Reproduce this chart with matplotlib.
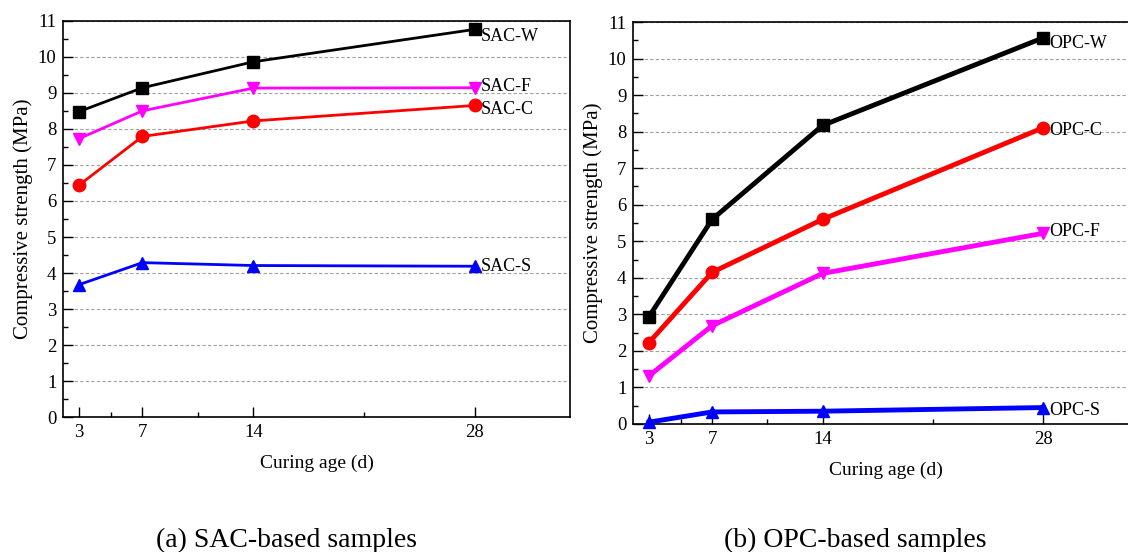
import matplotlib
matplotlib.use("Agg")
import matplotlib.pyplot as plt
from matplotlib.ticker import FixedLocator

plt.rcParams['font.family'] = ['Liberation Serif', 'DejaVu Serif']

ages = [3, 7, 14, 28]
age_minor = [5, 10.5, 21]

sac_names = ["SAC-W", "SAC-F", "SAC-C", "SAC-S"]
sac_w = [8.48, 9.14, 9.86, 10.76]
sac_f = [7.73, 8.50, 9.13, 9.14]
sac_c = [6.44, 7.79, 8.22, 8.65]
sac_s = [3.68, 4.29, 4.21, 4.19]

opc_names = ["OPC-W", "OPC-C", "OPC-F", "OPC-S"]
opc_w = [2.94, 5.60, 8.17, 10.57]
opc_c = [2.23, 4.15, 5.60, 8.11]
opc_f = [1.32, 2.69, 4.12, 5.22]
opc_s = [0.05, 0.33, 0.35, 0.45]

y_ticks = list(range(0, 12))
subtitles = ["(a) SAC-based samples", "(b) OPC-based samples"]

colors = {"W": "#000000", "C": "#ff0000", "F": "#ff00ff", "S": "#0000ff"}
markers = {"W": "s", "C": "o", "F": "v", "S": "^"}

fig = plt.figure(figsize=(11.28, 5.52), dpi=100)
ax1 = fig.add_axes([0.0561, 0.244, 0.4492, 0.7185])
ax2 = fig.add_axes([0.5614, 0.2319, 0.4475, 0.7282])

def style(ax):
    ax.set_xlim(2, 34)
    ax.set_ylim(0, 11)
    ax.xaxis.set_major_locator(FixedLocator(ages))
    ax.xaxis.set_minor_locator(FixedLocator(age_minor))
    ax.set_yticks(y_ticks)
    ax.yaxis.set_minor_locator(FixedLocator([v + 0.5 for v in y_ticks[:-1]]))
    ax.tick_params(which='major', direction='in', length=7, width=1.0,
                   labelsize=13.5, top=False, right=False, pad=5)
    ax.tick_params(which='minor', direction='in', length=3.5, width=1.0,
                   top=False, right=False)
    ax.grid(axis='y', which='major', linestyle=(0, (3, 2)), color='#a0a0a0', lw=0.8)
    ax.set_axisbelow(True)
    for s in ax.spines.values():
        s.set_linewidth(1.2)
    ax.set_xlabel("Curing age (d)", fontsize=14, labelpad=10)
    ax.set_ylabel("Compressive strength (MPa)", fontsize=15, labelpad=3)

style(ax1)
style(ax2)

sac_series = {"W": sac_w, "F": sac_f, "C": sac_c, "S": sac_s}
sac_offsets = {"W": -5, "F": 1, "C": -3, "S": 0}
for key, name in zip(["W", "F", "C", "S"], sac_names):
    vals = sac_series[key]
    ax1.plot(ages, vals, color=colors[key], marker=markers[key], lw=2,
             markersize=9, clip_on=False, zorder=3)
    ax1.annotate(name, (ages[-1], vals[-1]), xytext=(4, sac_offsets[key]),
                 textcoords='offset points', va='center', ha='left', fontsize=13)

opc_series = {"W": opc_w, "C": opc_c, "F": opc_f, "S": opc_s}
opc_offsets = {"W": -4, "C": -2, "F": 1, "S": -2}
for key, name in zip(["W", "C", "F", "S"], opc_names):
    vals = opc_series[key]
    ax2.plot(ages, vals, color=colors[key], marker=markers[key], lw=3.5,
             markersize=9, clip_on=False, zorder=3)
    ax2.annotate(name, (ages[-1], vals[-1]), xytext=(4, opc_offsets[key]),
                 textcoords='offset points', va='center', ha='left', fontsize=13)

fig.text(287 / 1128, 1 - 540 / 552, subtitles[0], ha='center', va='center', fontsize=20)
fig.text(855 / 1128, 1 - 540 / 552, subtitles[1], ha='center', va='center', fontsize=20)

fig.savefig("out.png", dpi=100)
